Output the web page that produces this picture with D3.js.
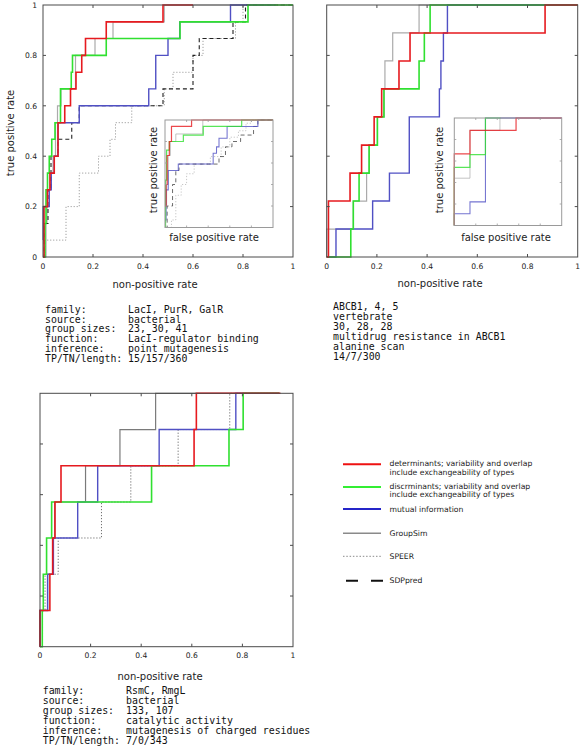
<!DOCTYPE html>
<html><head><meta charset="utf-8">
<script src="https://cdn.jsdelivr.net/npm/d3@7"></script>
<style>body{margin:0;background:#fff}svg{display:block}</style>
</head><body>
<svg id="c" width="582" height="748"></svg>
<script>
// ---------- tick values / labels ----------
const tickValues = [0, 0.2, 0.4, 0.6, 0.8, 1];
const tickLabels = ["0", "0.2", "0.4", "0.6", "0.8", "1"];

// ---------- panel 1 (LacI, PurR, GalR) ----------
const p1Det = [[0,0],[0.004,0.2],[0.018,0.267],[0.028,0.333],[0.045,0.4],[0.06,0.533],[0.087,0.6],[0.11,0.667],[0.132,0.733],[0.155,0.8],[0.17,0.867],[0.253,0.933],[0.48,1],[0.6,1]];
const p1Disc = [[0,0],[0.008,0.133],[0.012,0.267],[0.018,0.333],[0.025,0.4],[0.035,0.467],[0.048,0.533],[0.07,0.667],[0.113,0.733],[0.118,0.8],[0.253,0.867],[0.548,0.933],[0.82,1],[1,1]];
const p1MI = [[0,0.067],[0.001,0.2],[0.025,0.267],[0.033,0.333],[0.045,0.4],[0.06,0.533],[0.145,0.6],[0.423,0.667],[0.451,0.8],[0.5,0.867],[0.547,0.933],[0.75,1],[0.93,1]];
const p1GroupSim = [[0,0],[0.012,0.133],[0.016,0.267],[0.028,0.333],[0.04,0.4],[0.05,0.533],[0.058,0.6],[0.072,0.667],[0.13,0.8],[0.208,0.867],[0.28,0.933],[0.485,1],[0.93,1]];
const p1SPEER = [[0,0],[0.008,0.067],[0.092,0.2],[0.145,0.333],[0.222,0.4],[0.268,0.467],[0.29,0.533],[0.355,0.6],[0.485,0.667],[0.52,0.733],[0.6,0.8],[0.64,0.867],[0.77,0.933],[0.8,1],[1,1]];
const p1SDP = [[0,0],[0.005,0.133],[0.02,0.267],[0.032,0.4],[0.06,0.467],[0.115,0.533],[0.145,0.6],[0.48,0.667],[0.6,0.8],[0.625,0.867],[0.76,0.933],[0.81,1],[1,1]];

// panel 1 inset (false positive rate)
const i1Det = [[0,0.2],[0.01,0.4],[0.02,0.67],[0.04,0.8],[0.06,0.94],[0.246,1],[1,1]];
const i1Disc = [[0,0],[0.005,0.44],[0.015,0.72],[0.04,0.8],[0.17,0.86],[0.354,0.94],[0.71,1],[1,1]];
const i1MI = [[0,0.07],[0.01,0.35],[0.03,0.53],[0.123,0.59],[0.446,0.69],[0.477,0.75],[0.5,0.83],[0.575,0.94],[0.86,1],[1,1]];
const i1GroupSim = [[0,0.2],[0.015,0.4],[0.03,0.67],[0.05,0.8],[0.1,0.87],[0.35,1],[1,1]];
const i1SPEER = [[0,0],[0.06,0.07],[0.1,0.3],[0.15,0.4],[0.2,0.5],[0.27,0.59],[0.42,0.66],[0.52,0.75],[0.6,0.84],[0.68,0.9],[0.75,0.97],[0.8,1],[1,1]];
const i1SDP = [[0,0],[0.02,0.2],[0.07,0.4],[0.1,0.53],[0.13,0.59],[0.5,0.66],[0.56,0.75],[0.62,0.8],[0.7,0.86],[0.82,0.94],[0.86,1],[1,1]];

// ---------- panel 2 (ABCB1, 4, 5) ----------
const p2Det = [[0,0],[0.007,0.222],[0.093,0.333],[0.139,0.444],[0.189,0.556],[0.219,0.667],[0.288,0.778],[0.332,0.889],[0.87,1],[1,1]];
const p2Disc = [[0,0],[0.096,0.111],[0.106,0.222],[0.129,0.333],[0.169,0.444],[0.202,0.556],[0.228,0.667],[0.368,0.778],[0.389,0.889],[0.412,1],[1,1]];
const p2MI = [[0,0],[0.037,0.111],[0.183,0.222],[0.25,0.333],[0.329,0.556],[0.449,0.667],[0.455,0.778],[0.465,0.889],[0.481,1],[1,1]];
const p2GroupSim = [[0,0],[0,0.111],[0.106,0.222],[0.159,0.333],[0.169,0.444],[0.202,0.556],[0.229,0.667],[0.232,0.778],[0.263,0.889],[0.368,1],[1,1]];

// panel 2 inset
const i2Det = [[0,0],[0,0.666],[0.146,0.885],[0.575,1],[1,1]];
const i2Disc = [[0,0],[0,0.54],[0.146,0.66],[0.29,1],[0.43,1]];
const i2MI = [[0,0],[0,0.11],[0.146,0.22],[0.29,1],[1,1]];
const i2GroupSim = [[0,0],[0,0.44],[0.146,0.885],[0.425,1],[1,1]];

// ---------- panel 3 (RsmC, RmgL) ----------
const p3Det = [[0,0],[0,0.143],[0.039,0.286],[0.05,0.429],[0.059,0.571],[0.083,0.714],[0.609,0.857],[0.618,1],[0.95,1]];
const p3Disc = [[0,0],[0.009,0.143],[0.013,0.286],[0.026,0.429],[0.046,0.571],[0.441,0.714],[0.747,0.857],[0.803,1],[0.945,1]];
const p3MI = [[0,0],[0,0.143],[0.03,0.286],[0.053,0.429],[0.149,0.571],[0.228,0.714],[0.471,0.857],[0.774,1],[0.945,1]];
const p3GroupSim = [[0,0],[0,0.143],[0.03,0.286],[0.05,0.429],[0.059,0.571],[0.18,0.714],[0.316,0.857],[0.457,1],[0.95,1]];
const p3SPEER = [[0,0],[0.01,0.143],[0.02,0.286],[0.072,0.429],[0.243,0.571],[0.359,0.714],[0.546,0.857],[0.75,1],[0.945,1]];

// ---------- info texts ----------
const infoKeys = ["family:", "source:", "group sizes:", "function:", "inference:", "TP/TN/length:"];
const p1Info = ["LacI, PurR, GalR", "bacterial", "23, 30, 41", "LacI-regulator binding", "point mutagenesis", "15/157/360"];
const p2Info = ["ABCB1, 4, 5", "vertebrate", "30, 28, 28", "multidrug resistance in ABCB1", "alanine scan", "14/7/300"];
const p3Info = ["RsmC, RmgL", "bacterial", "133, 107", "catalytic activity", "mutagenesis of charged residues", "7/0/343"];

// ---------- legend ----------
const legendKeys = ["det", "disc", "mi", "groupsim", "speer", "sdp"];
const legendLabels = [
  ["determinants; variability and overlap", "include exchangeability of types"],
  ["discrminants; variability and overlap", "include exchangeability of types"],
  ["mutual information"],
  ["GroupSim"],
  ["SPEER"],
  ["SDPpred"]
];

// ---------- styles ----------
const styles = {
  det:      {color: "#e61a1f", w: 1.6, dash: null},
  disc:     {color: "#30e030", w: 1.6, dash: null},
  mi:       {color: "#5050c4", w: 1.4, dash: null},
  groupsim: {color: "#ababab", w: 1.2, dash: null},
  speer:    {color: "#a0a0a0", w: 1.0, dash: "1.2,1.8"},
  sdp:      {color: "#222222", w: 1.1, dash: "4,3"}
};
const legendStyles = {
  det:      {color: "#ee1111", w: 2, dash: null},
  disc:     {color: "#33ee33", w: 2, dash: null},
  mi:       {color: "#2525c8", w: 2, dash: null},
  groupsim: {color: "#8a8a8a", w: 1.5, dash: null},
  speer:    {color: "#8a8a8a", w: 1, dash: "1.5,1.8"},
  sdp:      {color: "#111111", w: 2, dash: "12,13"}
};

const svg = d3.select("#c");
const FONT = "DejaVu Sans, sans-serif";
const MONO = "DejaVu Sans Mono, monospace";

function stepLine(x, y) {
  return d3.line().x(d => x(d[0])).y(d => y(d[1])).curve(d3.curveStepAfter);
}

function drawFrame(g, x, y, opts) {
  const [x0, x1] = x.range(), [y0, y1] = y.range();
  const tl = opts.tick;
  const tickG = g.append("g").attr("stroke", opts.frameColor).attr("stroke-width", opts.tickW || 1);
  tickValues.forEach(v => {
    if (v > 0 && v < 1) {
      tickG.append("line").attr("x1", x(v)).attr("x2", x(v)).attr("y1", y0).attr("y2", y0 - tl);
      tickG.append("line").attr("x1", x(v)).attr("x2", x(v)).attr("y1", y1).attr("y2", y1 + tl);
      tickG.append("line").attr("y1", y(v)).attr("y2", y(v)).attr("x1", x0).attr("x2", x0 + tl);
      tickG.append("line").attr("y1", y(v)).attr("y2", y(v)).attr("x1", x1).attr("x2", x1 - tl);
    }
  });
  g.append("rect").attr("x", x0).attr("y", y1).attr("width", x1 - x0).attr("height", y0 - y1)
    .attr("fill", "none").attr("stroke", opts.frameColor).attr("stroke-width", opts.frameW || 1);
}

function drawSeries(g, x, y, list, opts) {
  const line = stepLine(x, y);
  list.forEach(s => {
    const st = Object.assign({}, styles[s.key], s.override || {});
    g.append("path").attr("d", line(s.data)).attr("fill", "none")
      .attr("stroke", st.color).attr("stroke-width", st.w * (opts.scaleW || 1))
      .attr("stroke-dasharray", st.dash).attr("opacity", opts.opacity || 1)
      .attr("stroke-linejoin", "miter");
  });
}

function drawPanel(cfg) {
  const g = svg.append("g");
  const x = d3.scaleLinear().domain([0, 1]).range(cfg.xr);
  const y = d3.scaleLinear().domain([0, 1]).range(cfg.yr);
  g.append("rect").attr("x", cfg.xr[0]).attr("y", cfg.yr[1]).attr("width", cfg.xr[1]-cfg.xr[0]).attr("height", cfg.yr[0]-cfg.yr[1]).attr("fill", "#fff");
  drawSeries(g, x, y, cfg.series, {});
  drawFrame(g, x, y, {tick: 3, frameColor: "#4a4a4a"});
  // x tick labels
  g.append("g").selectAll("text").data(tickValues).join("text")
    .attr("x", d => x(d)).attr("y", cfg.xLabelY).attr("text-anchor", "middle")
    .attr("font-family", FONT).attr("font-size", 7.6).attr("fill", "#222")
    .text((d, i) => tickLabels[i]);
  if (cfg.yLabels) {
    g.append("g").selectAll("text").data(tickValues).join("text")
      .attr("x", cfg.xr[0] - 6).attr("y", d => y(d) + 2.7).attr("text-anchor", "end")
      .attr("font-family", FONT).attr("font-size", 7.6).attr("fill", "#222")
      .text((d, i) => tickLabels[i]);
    g.append("text").attr("transform", `translate(${cfg.yTitle[0]},${cfg.yTitle[1]}) rotate(-90)`)
      .attr("text-anchor", "middle").attr("font-family", FONT).attr("font-size", 10).attr("fill", "#222")
      .text("true positive rate");
  }
  g.append("text").attr("x", cfg.xTitle[0]).attr("y", cfg.xTitle[1]).attr("text-anchor", "middle")
    .attr("font-family", FONT).attr("font-size", 10).attr("fill", "#222").text("non-positive rate");

  if (cfg.inset) {
    const ins = cfg.inset;
    const ix = d3.scaleLinear().domain([0, 1]).range(ins.xr);
    const iy = d3.scaleLinear().domain([0, 1]).range(ins.yr);
    const ig = g.append("g");
    ig.append("rect").attr("x", ins.xr[0]).attr("y", ins.yr[1]).attr("width", ins.xr[1]-ins.xr[0]).attr("height", ins.yr[0]-ins.yr[1]).attr("fill", "#fff");
    drawSeries(ig, ix, iy, ins.series, {scaleW: 0.75, opacity: 0.8});
    drawFrame(ig, ix, iy, {tick: 2, frameColor: "#9a9a9a", tickW: 0.8});
    ig.append("text").attr("transform", `translate(${ins.yTitle[0]},${ins.yTitle[1]}) rotate(-90)`)
      .attr("text-anchor", "middle").attr("font-family", FONT).attr("font-size", 10).attr("fill", "#222")
      .text("true positive rate");
    ig.append("text").attr("x", ins.xTitle[0]).attr("y", ins.xTitle[1]).attr("text-anchor", "middle")
      .attr("font-family", FONT).attr("font-size", 10).attr("fill", "#222").text("false positive rate");
  }

  // info block
  const ib = g.append("g").attr("font-family", MONO).attr("font-size", 9.9).attr("fill", "#111");
  cfg.info.forEach((v, i) => {
    if (cfg.keysX != null) ib.append("text").attr("x", cfg.keysX).attr("y", cfg.infoY + i * cfg.infoStep).text(infoKeys[i]);
    ib.append("text").attr("x", cfg.valX).attr("y", cfg.infoY + i * cfg.infoStep).text(v);
  });
}

drawPanel({
  xr: [43, 293], yr: [257, 5], xLabelY: 269, yLabels: true, yTitle: [13.5, 133], xTitle: [155, 287.5],
  series: [
    {key: "speer", data: p1SPEER},
    {key: "groupsim", data: p1GroupSim},
    {key: "sdp", data: p1SDP},
    {key: "mi", data: p1MI},
    {key: "disc", data: p1Disc},
    {key: "det", data: p1Det}
  ],
  inset: {
    xr: [165, 273], yr: [227.5, 120], yTitle: [156.5, 170], xTitle: [214, 240.5],
    series: [
      {key: "speer", data: i1SPEER},
      {key: "groupsim", data: i1GroupSim},
      {key: "sdp", data: i1SDP},
      {key: "mi", data: i1MI},
      {key: "disc", data: i1Disc},
      {key: "det", data: i1Det}
    ]
  },
  info: p1Info, keysX: 45, valX: 128, infoY: 312.7, infoStep: 9.85
});

drawPanel({
  xr: [326.7, 577.7], yr: [257, 5], xLabelY: 269, yLabels: false, xTitle: [440, 286.5],
  series: [
    {key: "groupsim", data: p2GroupSim},
    {key: "mi", data: p2MI},
    {key: "disc", data: p2Disc},
    {key: "det", data: p2Det}
  ],
  inset: {
    xr: [454.3, 561.7], yr: [225.5, 118], yTitle: [442.5, 170], xTitle: [506, 240.5],
    series: [
      {key: "groupsim", data: i2GroupSim},
      {key: "mi", data: i2MI},
      {key: "disc", data: i2Disc},
      {key: "det", data: i2Det}
    ]
  },
  info: p2Info, keysX: null, valX: 333, infoY: 310, infoStep: 10
});

drawPanel({
  xr: [40, 293], yr: [646.7, 393.3], xLabelY: 658, yLabels: false, xTitle: [160, 680],
  series: [
    {key: "speer", data: p3SPEER, override: {color: "#707070"}},
    {key: "groupsim", data: p3GroupSim, override: {color: "#7a7a7a"}},
    {key: "mi", data: p3MI},
    {key: "disc", data: p3Disc},
    {key: "det", data: p3Det}
  ],
  info: p3Info, keysX: 42.7, valX: 126, infoY: 694.3, infoStep: 9.9
});

// ---------- legend ----------
const legendY = [464.3, 487, 509, 533.3, 556.3, 580.7];
const lg = svg.append("g");
legendKeys.forEach((k, i) => {
  const st = legendStyles[k];
  const yy = legendY[i];
  const xs = k === "sdp" ? [346, 383] : [343, 381];
  lg.append("line").attr("x1", xs[0]).attr("x2", xs[1]).attr("y1", yy).attr("y2", yy)
    .attr("stroke", st.color).attr("stroke-width", st.w).attr("stroke-dasharray", st.dash);
  const lines = legendLabels[i];
  lines.forEach((t, j) => {
    const by = lines.length === 2 ? yy + 1.5 + j * 8.8 : yy + 2.7;
    lg.append("text").attr("x", 389.5).attr("y", by).attr("font-family", FONT)
      .attr("font-size", 7.7).attr("fill", "#222").text(t);
  });
});
</script>
</body></html>
